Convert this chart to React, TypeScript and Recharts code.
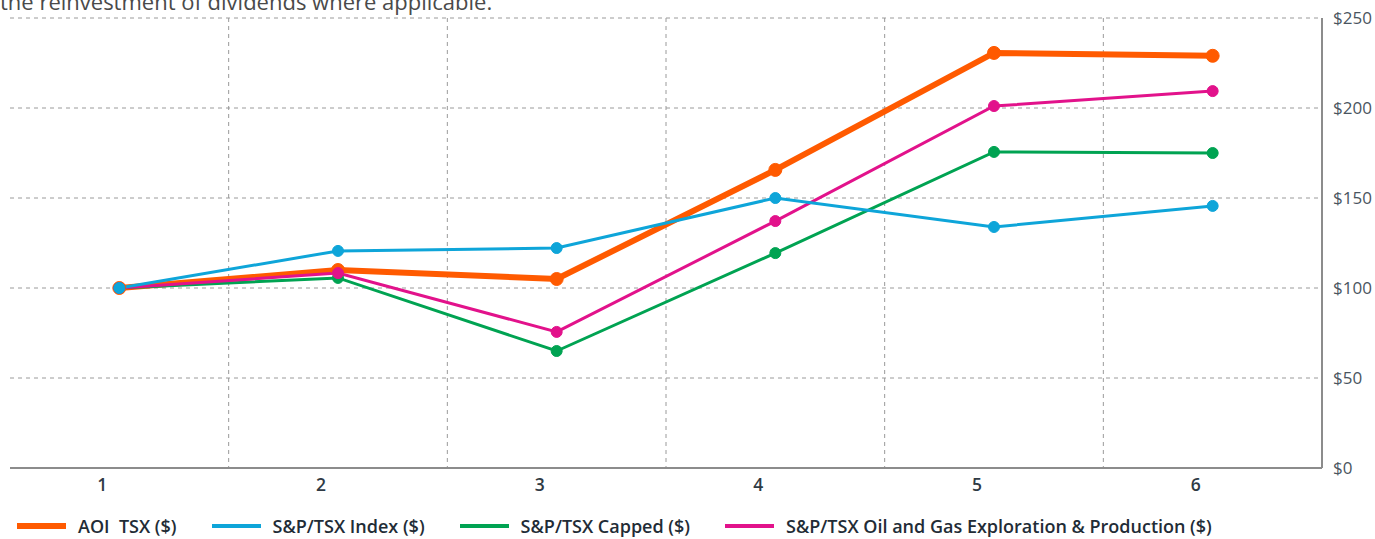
import { LineChart, Line, XAxis, YAxis, CartesianGrid, Legend } from 'recharts';

const periods = ['1', '2', '3', '4', '5', '6'];
const aoiTsx = [100, 110, 105, 165.6, 230.6, 229];
const spTsxIndex = [100, 120.6, 122.2, 150, 133.9, 145.6];
const spTsxCapped = [100, 105.6, 65, 119.4, 175.6, 175];
const spTsxOilGas = [100, 108.3, 75.6, 137.2, 201.1, 209.4];
const yTicks = [0, 50, 100, 150, 200, 250];

const series = [
    { key: 'aoi', name: 'AOI  TSX ($)', color: '#ff5a00', width: 6, r: 6.5 },
    { key: 'index', name: 'S&P/TSX Index ($)', color: '#0ea5d9', width: 3, r: 5.5 },
    { key: 'capped', name: 'S&P/TSX Capped ($)', color: '#00a352', width: 3, r: 5.5 },
    { key: 'oilgas', name: 'S&P/TSX Oil and Gas Exploration & Production ($)', color: '#e2128b', width: 3, r: 5.5 },
];

// draw order: orange underneath, blue on top
const drawOrder = ['aoi', 'capped', 'oilgas', 'index'];

const data = periods.map((p, i) => ({
    period: p,
    aoi: aoiTsx[i],
    index: spTsxIndex[i],
    capped: spTsxCapped[i],
    oilgas: spTsxOilGas[i],
}));

const font = '"Open Sans", Lato, sans-serif';

const XTick = ({ x, y, payload }: any) => (
    <text x={x - 17} y={y + 15} textAnchor="middle" fill="#2f3a44" fontSize={17.5} fontWeight={600} fontFamily={font}>
        {payload.value}
    </text>
);

const LegendContent = () => (
    <div style={{ display: 'flex', alignItems: 'center', paddingLeft: 7, paddingTop: 6, lineHeight: '22px', fontFamily: font }}>
        {series.map((s) => (
            <div key={s.key} style={{ display: 'flex', alignItems: 'center', marginRight: 35 }}>
                <span style={{ display: 'inline-block', width: 49, height: s.width === 6 ? 6 : 4, background: s.color, marginRight: 12 }} />
                <span style={{ fontSize: 18, fontWeight: 600, color: '#222c36', whiteSpace: 'pre' }}>{s.name}</span>
            </div>
        ))}
    </div>
);

const App = () => {
    return (
        <div style={{ position: 'absolute', left: 0, top: 0, width: 1375, height: 539, overflow: 'hidden', background: '#fff' }}>
            <div style={{ position: 'absolute', left: 0, top: -10, lineHeight: '22px', fontFamily: font, fontSize: 22, fontWeight: 400, color: '#4a4a4a', whiteSpace: 'nowrap' }}>
                the reinvestment of dividends where applicable.
            </div>
            <LineChart width={1375} height={539} data={data} margin={{ top: 18, right: 0, left: 10, bottom: 0 }}>
                <CartesianGrid
                    stroke="#9a9a9a"
                    strokeDasharray="4 4"
                    verticalCoordinatesGenerator={({ offset }: any) =>
                        periods.slice(1).map((_, i) => offset.left + ((i + 1) * offset.width) / periods.length)
                    }
                />
                <XAxis
                    dataKey="period"
                    scale="band"
                    height={41}
                    tickLine={false}
                    axisLine={{ stroke: '#8c8c8c', strokeWidth: 2 }}
                    tick={<XTick />}
                    interval={0}
                />
                <YAxis
                    yAxisId="left"
                    orientation="left"
                    width={0}
                    domain={[0, 250]}
                    ticks={yTicks}
                    tick={false}
                    tickLine={false}
                    axisLine={{ stroke: '#8c8c8c', strokeWidth: 2 }}
                />
                <YAxis
                    orientation="right"
                    width={53}
                    domain={[0, 250]}
                    ticks={yTicks}
                    tickLine={false}
                    tickSize={0}
                    tickMargin={11}
                    axisLine={{ stroke: '#8c8c8c', strokeWidth: 2 }}
                    tick={{ fill: '#4a5560', fontSize: 17, fontFamily: font, textAnchor: 'start' }}
                    tickFormatter={(v) => `$${v}`}
                />
                <Legend verticalAlign="bottom" height={30} content={<LegendContent />} />
                {drawOrder.map((k) => {
                    const s = series.find((x) => x.key === k)!;
                    return (
                        <Line
                            key={s.key}
                            dataKey={s.key}
                            name={s.name}
                            stroke={s.color}
                            strokeWidth={s.width}
                            dot={{ r: s.r, fill: s.color, stroke: s.color, strokeWidth: 1 }}
                            activeDot={false}
                            isAnimationActive={false}
                        />
                    );
                })}
            </LineChart>
        </div>
    );
};

export default App;
